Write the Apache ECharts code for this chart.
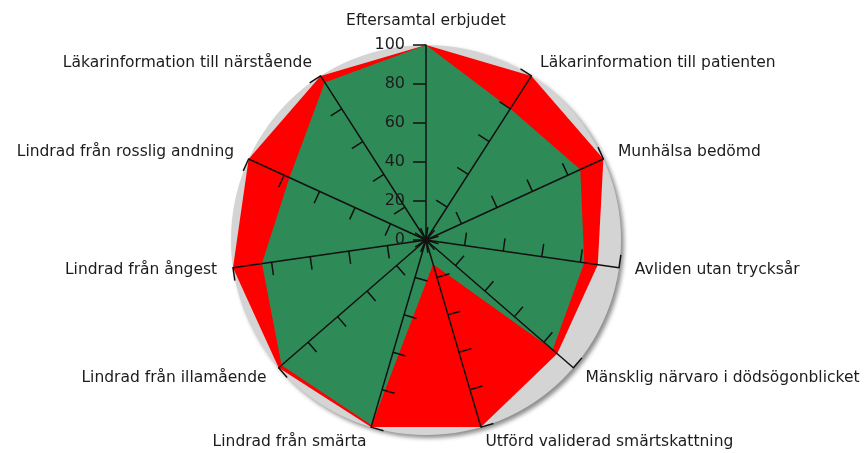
<!DOCTYPE html>
<html>
<head>
<meta charset="utf-8">
<script src="https://cdn.jsdelivr.net/npm/echarts@6/dist/echarts.min.js"></script>
<style>
  html, body { margin: 0; padding: 0; background: #fff; }
  #main { width: 865px; height: 453px; }
</style>
</head>
<body>
<div id="main"></div>
<script>
// indikatorer, medurs från toppen
const indicators = [
  'Eftersamtal erbjudet',
  'Läkarinformation till patienten',
  'Munhälsa bedömd',
  'Avliden utan trycksår',
  'Mänsklig närvaro i dödsögonblicket',
  'Utförd validerad smärtskattning',
  'Lindrad från smärta',
  'Lindrad från illamående',
  'Lindrad från ångest',
  'Lindrad från rosslig andning',
  'Läkarinformation till närstående'
];
const axisMax = 100;
const redValues = [100, 100, 100, 89, 89, 100, 100, 100, 100, 100, 100];
const greenValues = [100, 80, 87, 82, 86, 13, 99, 98, 85, 77, 96];

// echarts lägger axlarna moturs, så vänd ordningen efter den första
function cw(arr) {
  return [arr[0]].concat(arr.slice(1).reverse());
}

const chart = echarts.init(document.getElementById('main'));

const textColor = '#1c1c1c';
const font = 'DejaVu Sans';
const center = [426, 240];
const radius = 195;

const axisIndicators = cw(indicators).map((name, i) => {
  const ind = { name: name, min: 0, max: axisMax };
  if (i === 0) {
    ind.axisLabel = { show: true, color: textColor, fontSize: 16, fontFamily: font, margin: 21 };
  }
  return ind;
});
const bgIndicators = cw(indicators).map(name => ({ name: name, min: 0, max: axisMax }));

const option = {
  animation: false,
  radar: [
    {
      // axlar, skalstreck och namn ovanpå serierna
      center: center,
      radius: radius,
      shape: 'circle',
      startAngle: 90,
      splitNumber: 5,
      z: 5,
      indicator: axisIndicators,
      nameGap: 16,
      axisName: { color: textColor, fontSize: 15.5, fontFamily: font },
      axisLine: { show: true, lineStyle: { color: '#111', width: 1.5 } },
      axisTick: { show: true, length: 13, lineStyle: { color: '#111', width: 1.5 } },
      splitLine: { show: false },
      splitArea: { show: false }
    },
    {
      // grå bakgrundsskiva
      center: center,
      radius: radius,
      shape: 'circle',
      startAngle: 90,
      splitNumber: 1,
      z: 0,
      indicator: bgIndicators,
      axisName: { show: false },
      axisLine: { show: false },
      axisTick: { show: false },
      splitLine: { show: false },
      splitArea: {
        show: true,
        areaStyle: {
          color: ['#d4d4d4'],
          shadowColor: 'rgba(0,0,0,0.45)',
          shadowBlur: 4,
          shadowOffsetX: 3,
          shadowOffsetY: 3
        }
      }
    }
  ],
  series: [
    {
      type: 'radar',
      radarIndex: 0,
      z: 2,
      symbol: 'none',
      silent: true,
      data: [
        {
          name: 'Målnivå',
          value: cw(redValues),
          lineStyle: { width: 0, color: '#ff0000' },
          areaStyle: { color: '#ff0000', opacity: 1 }
        },
        {
          name: 'Resultat',
          value: cw(greenValues),
          lineStyle: { width: 0, color: '#2e8b57' },
          areaStyle: { color: '#2e8b57', opacity: 1 }
        }
      ]
    }
  ]
};

chart.setOption(option);
</script>
</body>
</html>
